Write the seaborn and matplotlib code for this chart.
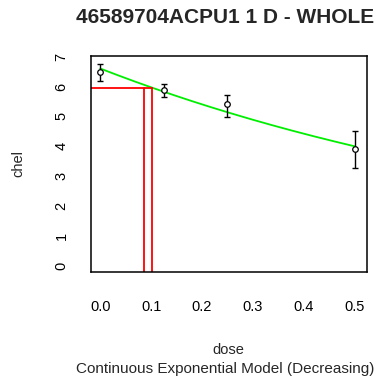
import numpy as np
import pandas as pd
import matplotlib
matplotlib.use("Agg")
import matplotlib.pyplot as plt
import seaborn as sns

# Observed group data
doses = [0.0, 0.125, 0.25, 0.5]
means = [6.50, 5.87, 5.42, 3.92]
lower = [6.18, 5.64, 4.97, 3.29]
upper = [6.76, 6.09, 5.70, 4.50]

# Fitted continuous exponential model: y = a * exp(-b * dose)
model_a = 6.6
model_b = 1.0

# Benchmark dose results
bmd = 0.1017
bmdl = 0.0866

x_ticks = [0.0, 0.1, 0.2, 0.3, 0.4, 0.5]
x_tick_labels = ["0.0", "0.1", "0.2", "0.3", "0.4", "0.5"]
y_ticks = [0, 1, 2, 3, 4, 5, 6, 7]

title = "46589704ACPU1 1 D - WHOLE"
x_label = "dose"
y_label = "chel"
subtitle = "Continuous Exponential Model (Decreasing)"

sns.set_style("white")
plt.rcParams["font.family"] = ["Liberation Sans", "DejaVu Sans"]

fig = plt.figure(figsize=(3.82, 3.77), dpi=100)
ax = fig.add_axes([90.7 / 382, 1 - 272 / 377, 276 / 382, 216 / 377])

obs = pd.DataFrame({"dose": doses, "mean": means})
curve_x = np.linspace(min(doses), max(doses), 200)
curve = pd.DataFrame({"dose": curve_x,
                      "resp": model_a * np.exp(-model_b * curve_x)})

# model fit
sns.lineplot(data=curve, x="dose", y="resp", color="#00ee00", lw=1.3, ax=ax)

# benchmark dose markers
bmd_level = model_a * np.exp(-model_b * bmd)
ylo = -0.2
ax.plot([-0.05, bmd], [bmd_level, bmd_level], color="#ff0000", lw=1.3)
ax.plot([bmdl, bmdl], [ylo, bmd_level], color="#ff0000", lw=1.3)
ax.plot([bmd, bmd], [ylo, bmd_level], color="#ff0000", lw=1.3)

# group means with confidence limits
err = [np.array(means) - np.array(lower), np.array(upper) - np.array(means)]
ax.errorbar(doses, means, yerr=err, fmt="none", ecolor="black",
            elinewidth=1.0, capsize=2.5, capthick=1.0)
sns.scatterplot(data=obs, x="dose", y="mean", marker="o", s=16,
                facecolor="white", edgecolor="black", linewidth=0.9, ax=ax,
                zorder=5)

ax.set_xlim(-0.019, 0.524)
ax.set_ylim(ylo, 7.02)
ax.set_xticks(x_ticks)
ax.set_xticklabels(x_tick_labels)
ax.set_yticks(y_ticks)
ax.set_yticklabels([str(v) for v in y_ticks], rotation=90, va="center")

for s in ax.spines.values():
    s.set_visible(True)
    s.set_color("black")
    s.set_linewidth(1.1)

ax.tick_params(axis="both", direction="out", length=7, width=1.0,
               color="black", labelsize=10.5, labelcolor="black")
ax.tick_params(axis="x", pad=13)
ax.tick_params(axis="y", pad=9)

ax.set_xlabel(x_label, fontsize=10.5)
ax.set_ylabel(y_label, fontsize=10.5)
ax.xaxis.set_label_coords(0.5, -0.33)
ax.yaxis.set_label_coords(-0.235, 0.5)

fig.text(0.589, 0.954, title, ha="center", va="center",
         fontsize=15, fontweight="bold")
fig.text(0.590, 0.022, subtitle, ha="center", va="center", fontsize=11)

fig.savefig("out.png", dpi=100)
